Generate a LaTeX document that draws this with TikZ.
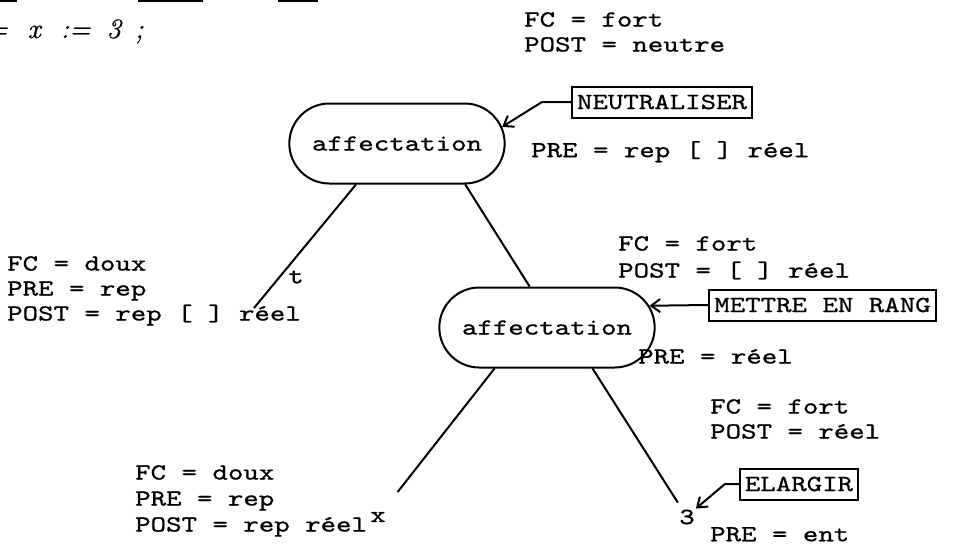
\documentclass[tikz,border=0pt]{standalone}
\usepackage{fontspec}
\usetikzlibrary{shapes.misc,arrows.meta}
\newfontfamily\tw{lmmono10-regular.otf}[FakeStretch=1.28,FakeBold=0.8]
\newfontfamily\itf{lmroman10-italic.otf}[FakeBold=0.6]

\tikzset{
  affect/.style={draw, rounded rectangle, minimum width=222pt, minimum height=80pt,
    line width=2pt, font=\tw\fontsize{23}{27}\selectfont},
  regle/.style={draw, line width=2pt, inner sep=5pt, minimum height=31pt,
    font=\tw\fontsize{23}{27}\selectfont},
  attr/.style={anchor=north west, inner sep=0pt, align=left,
    font=\tw\fontsize{23}{#1}\selectfont},
  attr/.default=26,
  feuille/.style={inner sep=1pt, font=\tw\fontsize{23}{27}\selectfont},
  branche/.style={line width=2pt},
  fleche/.style={line width=2pt, -{Straight Barb[length=9pt,width=13pt]}}
}

\begin{document}
\begin{tikzpicture}[x=1pt, y=-1pt]
    \useasboundingbox (0,0) rectangle (969,552);
    \draw[line width=2.5pt] (0,1) -- (17,1);
    \draw[line width=2.5pt] (138,1) -- (203,1);
    \draw[line width=2.5pt] (278,1) -- (318,1);
    \node[anchor=base west, inner sep=0pt, font=\itf\fontsize{28}{32}\selectfont] (instr) at (-14,38) {=\hspace{20pt}x\hspace{20pt}:=\hspace{16pt}3\hspace{14pt};};

    \node[affect] (aff1) at (397,143.5) {affectation};
    \node[affect] (aff2) at (547,327.5) {affectation};
    \node[feuille] (t) at (296,277) {t};
    \node[feuille] (x) at (378,517) {x};
    \node[feuille] (three) at (687,517) {3};
    \coordinate (tbout) at (254,308);

    \draw[branche] (aff1.225) -- (tbout);
    \draw[branche] (aff1.329) -- (aff2.113);
    \draw[branche, shorten >=24pt] (aff2.218) -- (x);
    \draw[branche, shorten >=7pt] (aff2.318) -- (three);

    \node[regle] (neut) at (662,102) {NEUTRALISER};
    \node[regle] (mett) at (822.5,305) {METTRE EN RANG};
    \node[regle] (elar) at (799,484) {ELARGIR};
    \draw[fleche] (neut.west) -- ++(-29,0) -- (aff1.9);
    \draw[fleche] (mett.west) -- (aff2.12);
    \draw[fleche] (elar.west) -- ++(-14,0) -- (three.north east);

    \node[attr=25] (haut) at (524,12) {FC = fort\\POST = neutre};
    \node[attr] (pre1) at (531,141) {PRE = rep [ ] réel};
    \node[attr=25] (gauche) at (7,256) {FC = doux\\PRE = rep\\POST = rep [ ] réel};
    \node[attr=27] (milieu) at (618,236) {FC = fort\\POST = [ ] réel};
    \node[attr] (pre2) at (638,349) {PRE = réel};
    \node[attr=25] (bas) at (710,399) {FC = fort\\POST = réel};
    \node[attr] (pre3) at (710,527) {PRE = ent};
    \node[attr] (basg) at (135,465) {FC = doux\\PRE = rep\\POST = rep réel};
\end{tikzpicture}
\end{document}
